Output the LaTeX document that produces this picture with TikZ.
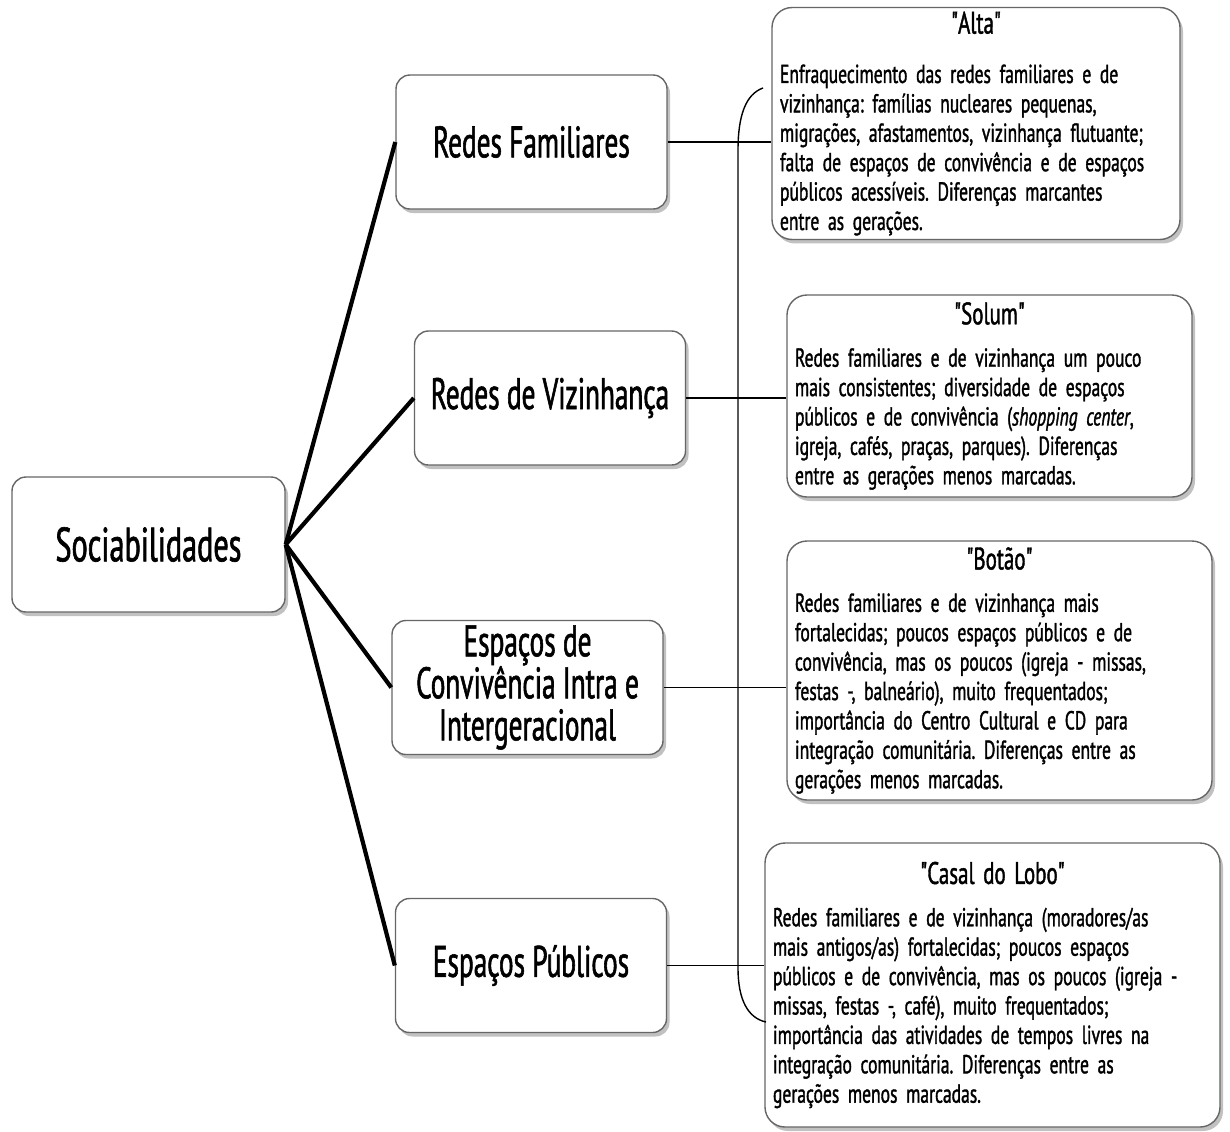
\documentclass[tikz,border=0pt]{standalone}
\usepackage{fontspec}
\setmainfont{PT Sans}[FakeStretch=0.675, FakeBold=1.3]
\setmonofont{PT Sans}[FakeStretch=0.675, FakeBold=1.3]
\newcommand{\dq}{{\ttfamily"}}
\usetikzlibrary{shadows}
\tikzset{
  boxbase/.style={draw=black!60, line width=0.7pt, fill=white, rounded corners=7pt,
    drop shadow={shadow xshift=1.5pt, shadow yshift=-2pt, opacity=0.35, fill=black!70}},
  midbox/.style={boxbase, minimum width=135.5pt, minimum height=67pt, align=center,
    font=\fontsize{22}{21}\selectfont\addfontfeature{FakeStretch=0.62}, inner sep=2pt},
  rightbox/.style={boxbase, rounded corners=10pt, inner xsep=4pt, inner ysep=2pt,
    font=\fontsize{13}{14.7}\selectfont, align=left},
  thick line/.style={line width=2.1pt, black},
  thin line/.style={line width=0.7pt, black},
}
\newcommand{\boxtitle}[2][6.5pt]{\makebox[\linewidth][c]{\fontsize{15.5}{15}\selectfont #2}\\[#1]}
\begin{document}
\frenchspacing
\begin{tikzpicture}[x=0.5pt, y=-0.5pt]
\useasboundingbox (0,0) rectangle (1230,1131);

\node[midbox, minimum width=136.5pt, minimum height=67.5pt, font=\fontsize{24}{23}\selectfont\addfontfeature{FakeStretch=0.63}] (soc) at (148.5,544.5) {Sociabilidades};
\node[midbox] (rf) at (531.5,142) {Redes Familiares};
\node[midbox] (rv) at (550,398) {Redes de Vizinhança};
\node[midbox] (ec) at (527.5,687.5) {Espaços de\\Convivência Intra e\\Intergeracional};
\node[midbox] (ep) at (531,965.5) {Espaços Públicos};

\node[rightbox, minimum width=204pt, minimum height=113.5pt, text width=196pt] (alta) at (976,123.5) {%
\boxtitle[10pt]{\dq Alta\dq}%
Enfraquecimento das redes familiares e de\\
vizinhança: famílias nucleares pequenas,\\
migrações, afastamentos, vizinhança flutuante;\\
falta de espaços de convivência e de espaços\\
públicos acessíveis. Diferenças marcantes\\
entre as gerações.};

\node[rightbox, minimum width=202.5pt, minimum height=101pt, text width=194.5pt] (solum) at (989.5,396) {%
\boxtitle{\dq Solum\dq}%
Redes familiares e de vizinhança um pouco\\
mais consistentes; diversidade de espaços\\
públicos e de convivência (\textit{shopping center},\\
igreja, cafés, praças, parques). Diferenças\\
entre as gerações menos marcadas.};

\node[rightbox, minimum width=212.5pt, minimum height=129.5pt, text width=204.5pt] (botao) at (999.5,670.5) {%
\boxtitle{\dq Botão\dq}%
Redes familiares e de vizinhança mais\\
fortalecidas; poucos espaços públicos e de\\
convivência, mas os poucos (igreja - missas,\\
festas -, balneário), muito frequentados;\\
importância do Centro Cultural e CD para\\
integração comunitária. Diferenças entre as\\
gerações menos marcadas.};

\node[rightbox, minimum width=227.5pt, minimum height=142pt, text width=219.5pt] (casal) at (992.5,985) {%
\boxtitle{\dq Casal do Lobo\dq}%
Redes familiares e de vizinhança (moradores/as\\
mais antigos/as) fortalecidas; poucos espaços\\
públicos e de convivência, mas os poucos (igreja -\\
missas, festas -, café), muito frequentados;\\
importância das atividades de tempos livres na\\
integração comunitária. Diferenças entre as\\
gerações menos marcadas.};

\foreach \t in {rf,rv,ec,ep} \draw[thick line] (soc.east) -- (\t.west);

\draw[thin line] (rf.east) -- (rf.east -| alta.west);
\draw[thin line] (rv.east) -- (rv.east -| solum.west);
\draw[thin line] (ec.east) -- (ec.east -| botao.west);
\draw[thin line] (ep.east) -- (ep.east -| casal.west);

\coordinate (brtop) at (763,88);
\coordinate (brbot) at (766,1022);
\draw[thin line] (brtop) .. controls (746,94) and (738,115) .. (738,150) -- (738,968)
  .. controls (738,1000) and (748,1018) .. (brbot);
\end{tikzpicture}
\end{document}
